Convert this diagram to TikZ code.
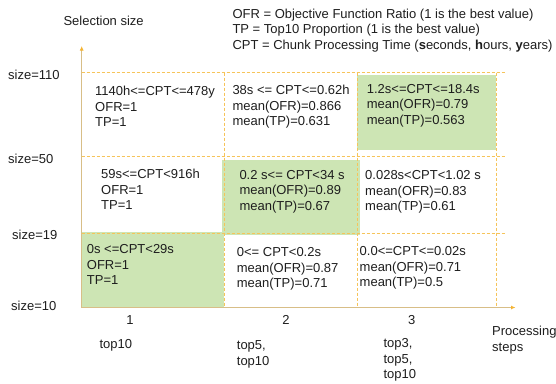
\documentclass[tikz,border=0pt]{standalone}
\usepackage{fontspec}
\setmainfont{Liberation Sans}
\usetikzlibrary{arrows.meta}
\definecolor{axiscol}{RGB}{216,190,135}
\definecolor{tipcol}{RGB}{245,180,50}
\definecolor{dashcol}{RGB}{246,196,90}
\definecolor{greenfill}{RGB}{205,229,180}
\definecolor{txt}{RGB}{30,30,30}
\tikzset{
  lbl/.style={inner sep=0pt, text=txt, font=\fontsize{13}{15.6}\selectfont, anchor=base west},
  tick/.style={inner sep=0pt, text=txt, font=\fontsize{13}{15.6}\selectfont, anchor=base},
  gridline/.style={draw=dashcol, line width=0.8pt, dash pattern=on 3pt off 2pt},
  axisline/.style={draw=axiscol, line width=1.3pt, -{Latex[length=4.5pt,width=4pt,color=tipcol]}},
  greenbox/.style={fill=greenfill, draw=none},
}
\newcommand{\cellt}[1]{\begin{tabular}[t]{@{}l@{}}#1\end{tabular}}
\begin{document}
\begin{tikzpicture}[x=1pt,y=-1pt]
\useasboundingbox (0,0) rectangle (556,383);
\fill[white] (0,0) rectangle (556,383);
% green highlighted cells
\fill[greenbox] (356.7,75) rectangle (496,150);
\fill[greenbox] (221.7,159.5) rectangle (360,235);
\fill[greenbox] (81.7,232) rectangle (224,307.5);
% grid coordinates
\coordinate (h110a) at (81.7,72.7);  \coordinate (h110b) at (505,72.7);
\coordinate (h50a)  at (81.7,156.5); \coordinate (h50b)  at (505,156.5);
\coordinate (h19a)  at (81.7,233);   \coordinate (h19b)  at (505,233);
\coordinate (v1a) at (224,72.7);   \coordinate (v1b) at (224,307);
\coordinate (v2a) at (357.5,72.7); \coordinate (v2b) at (357.5,307);
\coordinate (v3a) at (496,72.7);   \coordinate (v3b) at (496,307);
\draw[gridline] (h110a) -- (h110b);
\draw[gridline] (h50a) -- (h50b);
\draw[gridline] (h19a) -- (h19b);
\draw[gridline] (v1a) -- (v1b);
\draw[gridline] (v2a) -- (v2b);
\draw[gridline] (v3a) -- (v3b);
% axes
\coordinate (O) at (81.7,307.5);
\coordinate (ytop) at (81.7,46);
\coordinate (xend) at (515.5,307.5);
\draw[axisline] (O) -- (ytop);
\draw[axisline] (O) -- (xend);
% titles
\node[lbl] (sel) at (63.3,25.4) {Selection size};
\node[lbl] (legend) at (232.3,18) {\cellt{OFR = Objective Function Ratio (1 is the best value)\\
TP = Top10 Proportion (1 is the best value)\\
CPT = Chunk Processing Time (\textbf{s}econds, \textbf{h}ours, \textbf{y}ears)}};
% size labels
\node[lbl] (s110) at (8,79.7) {size=110};
\node[lbl] (s50) at (8,163.7) {size=50};
\node[lbl] (s19) at (12,239.7) {size=19};
\node[lbl] (s10) at (11,310.7) {size=10};
% cells row 1
\node[lbl] (c11) at (95,95.7) {\cellt{1140h<=CPT<=478y\\OFR=1\\TP=1}};
\node[lbl] (c12) at (232.3,94.7) {\cellt{38s <= CPT<=0.62h\\mean(OFR)=0.866\\mean(TP)=0.631}};
\node[lbl] (c13) at (366.7,93) {\cellt{1.2s<=CPT<=18.4s\\mean(OFR)=0.79\\mean(TP)=0.563}};
% row 2
\node[lbl] (c21) at (101,178.7) {\cellt{59s<=CPT<916h\\OFR=1\\TP=1}};
\node[lbl] (c22) at (239.3,179) {\cellt{0.2 s<= CPT<34 s\\mean(OFR)=0.89\\mean(TP)=0.67}};
\node[lbl] (c23) at (365,179.7) {\cellt{0.028s<CPT<1.02 s\\mean(OFR)=0.83\\mean(TP)=0.61}};
% row 3
\node[lbl] (c31) at (86.7,253.7) {\cellt{0s <=CPT<29s\\OFR=1\\TP=1}};
\node[lbl] (c32) at (236.7,256.4) {\cellt{0<= CPT<0.2s\\mean(OFR)=0.87\\mean(TP)=0.71}};
\node[lbl] (c33) at (359.5,255.7) {\cellt{0.0<=CPT<=0.02s\\mean(OFR)=0.71\\mean(TP)=0.5}};
% x axis labels
\node[tick] (n1) at (130,324) {1};
\node[tick] (n2) at (286,324) {2};
\node[tick] (n3) at (411.7,324) {3};
\node[lbl] (t1) at (99.3,348.7) {\cellt{top10}};
\node[lbl] (t2) at (236.7,349.7) {\cellt{top5,\\top10}};
\node[lbl] (t3) at (383.3,347.4) {\cellt{top3,\\top5,\\top10}};
\node[lbl] (proc) at (492,335.7) {\cellt{Processing\\steps}};
\end{tikzpicture}
\end{document}
